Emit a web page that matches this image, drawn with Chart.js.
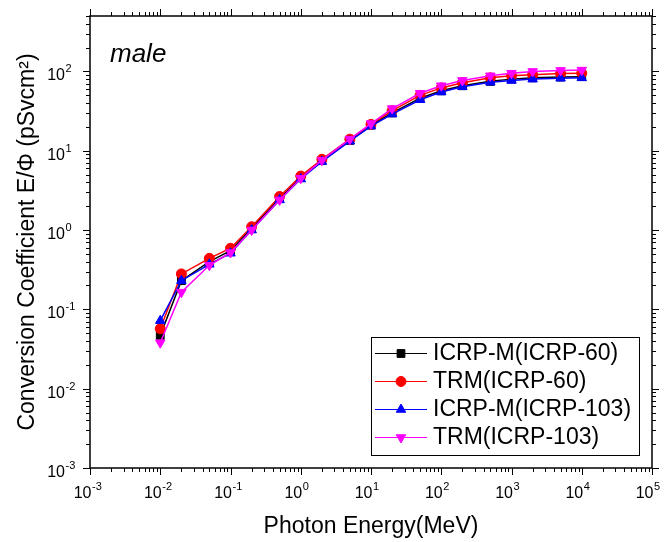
<!DOCTYPE html>
<html>
<head>
<meta charset="utf-8">
<script src="https://cdn.jsdelivr.net/npm/chart.js@4.4.1/dist/chart.umd.min.js"></script>
<style>
  body { margin: 0; background: #fff; }
  canvas { display: block; }
</style>
</head>
<body>
<canvas id="doseChart" width="667" height="542"></canvas>
<script>
// photon energies (MeV)
const energies = [0.01, 0.02, 0.05, 0.1, 0.2, 0.5, 1, 2, 5, 10, 20, 50, 100, 200, 500, 1000, 2000, 5000, 10000];

// conversion coefficients E/Phi (pSv cm2)
const icrpM60 = [0.047, 0.23, 0.40, 0.55, 1.05, 2.5, 4.6, 7.5, 13.5, 21, 30, 46, 57, 66, 75, 80, 83, 85, 86];
const trm60 = [0.057, 0.28, 0.44, 0.59, 1.1, 2.65, 4.8, 7.8, 14, 21.5, 32, 50, 62, 72, 83, 88, 91, 94, 95];
const icrpM103 = [0.072, 0.23, 0.37, 0.51, 1.0, 2.4, 4.4, 7.3, 13.2, 20.5, 29, 44, 55, 64, 73, 77, 80, 82, 83];
const trm103 = [0.038, 0.165, 0.36, 0.52, 1.0, 2.4, 4.5, 7.6, 14, 22, 34, 53, 66, 77, 88, 95, 100, 103, 104];

const seriesNames = ["ICRP-M(ICRP-60)", "TRM(ICRP-60)", "ICRP-M(ICRP-103)", "TRM(ICRP-103)"];
const xTickExps = [-3, -2, -1, 0, 1, 2, 3, 4, 5];
const yTickExps = [-3, -2, -1, 0, 1, 2];
const panelLabel = "male";

const FONT = "'Liberation Sans', Arial, sans-serif";

const looks = [
  { color: "#000000", style: "rect", radius: 5.5, rotation: 0, order: 3 },
  { color: "#ff0000", style: "circle", radius: 5, rotation: 0, order: 2 },
  { color: "#0000ff", style: "triangle", radius: 5.5, rotation: 0, order: 1 },
  { color: "#ff00ff", style: "triangle", radius: 5.5, rotation: 180, order: 0 }
];

const allSeries = [icrpM60, trm60, icrpM103, trm103];

const datasets = allSeries.map((vals, i) => ({
  label: seriesNames[i],
  data: energies.map((e, j) => ({ x: e, y: vals[j] })),
  borderColor: looks[i].color,
  backgroundColor: looks[i].color,
  borderWidth: 1.5,
  pointStyle: looks[i].style,
  pointRadius: looks[i].radius,
  pointRotation: looks[i].rotation,
  pointBorderWidth: 1,
  order: looks[i].order,
  tension: 0
}));

function drawPower(ctx, exp, xRight, baseY) {
  ctx.fillStyle = "#000";
  ctx.font = "16px " + FONT;
  ctx.textAlign = "right";
  ctx.textBaseline = "alphabetic";
  ctx.fillText("10", xRight, baseY);
  ctx.font = "11px " + FONT;
  ctx.textAlign = "left";
  ctx.fillText(String(exp), xRight + 0.5, baseY - 8);
}

// frame, ticks on all four sides, power-of-ten labels, panel text and legend
const framePlugin = {
  id: "frame",
  afterDraw(chart) {
    const { ctx, chartArea: a, scales: { x, y } } = chart;
    ctx.save();
    ctx.strokeStyle = "#000";
    ctx.lineWidth = 1;
    ctx.beginPath();
    for (let e = -3; e <= 5; e++) {
      for (let m = 1; m <= 9; m++) {
        const v = m * Math.pow(10, e);
        if (v > 1e5 * 1.0001) break;
        const px = Math.round(x.getPixelForValue(v)) + 0.5;
        const len = m === 1 ? 7 : 4;
        ctx.moveTo(px, a.bottom); ctx.lineTo(px, a.bottom + len);
        ctx.moveTo(px, a.top); ctx.lineTo(px, a.top - len);
      }
    }
    for (let e = -3; e <= 2; e++) {
      for (let m = 1; m <= 9; m++) {
        const v = m * Math.pow(10, e);
        if (v > 500 * 1.0001) break;
        const py = Math.round(y.getPixelForValue(v)) + 0.5;
        const len = m === 1 ? 7 : 4;
        ctx.moveTo(a.left, py); ctx.lineTo(a.left - len, py);
        ctx.moveTo(a.right, py); ctx.lineTo(a.right + len, py);
      }
    }
    ctx.stroke();

    ctx.lineWidth = 1.5;
    ctx.strokeRect(a.left, a.top, a.right - a.left, a.bottom - a.top);

    xTickExps.forEach(n => {
      const px = x.getPixelForValue(Math.pow(10, n));
      drawPower(ctx, n, px + 1.5, a.bottom + 30);
    });
    yTickExps.forEach(n => {
      const py = y.getPixelForValue(Math.pow(10, n));
      drawPower(ctx, n, 65, py + 9);
    });

    ctx.fillStyle = "#000";
    ctx.font = "italic 26px " + FONT;
    ctx.textAlign = "left";
    ctx.textBaseline = "alphabetic";
    ctx.fillText(panelLabel, 110, 62);

    // legend box
    const box = { left: 371, top: 337, right: 639, bottom: 455 };
    ctx.lineWidth = 1;
    ctx.strokeStyle = "#000";
    ctx.strokeRect(box.left + 0.5, box.top + 0.5, box.right - box.left, box.bottom - box.top);
    chart.data.datasets.forEach((ds, i) => {
      const rowY = 353 + i * 28;
      ctx.strokeStyle = ds.borderColor;
      ctx.lineWidth = 1;
      ctx.beginPath();
      ctx.moveTo(375, rowY + 0.5);
      ctx.lineTo(427, rowY + 0.5);
      ctx.stroke();
      ctx.fillStyle = ds.backgroundColor;
      Chart.helpers.drawPoint(ctx, {
        pointStyle: ds.pointStyle,
        radius: ds.pointRadius,
        rotation: ds.pointRotation,
        borderWidth: 1
      }, 401, rowY + 0.5);
      ctx.fillStyle = "#000";
      ctx.font = "23px " + FONT;
      ctx.textAlign = "left";
      ctx.textBaseline = "middle";
      ctx.fillText(ds.label, 433, rowY + 1);
    });
    ctx.restore();
  }
};

new Chart(document.getElementById("doseChart"), {
  type: "line",
  data: { datasets },
  options: {
    responsive: false,
    animation: false,
    devicePixelRatio: 1,
    events: [],
    layout: { padding: { top: 16, right: 15, left: 0, bottom: 0 } },
    plugins: { legend: { display: false }, tooltip: { enabled: false } },
    scales: {
      x: {
        type: "logarithmic",
        min: 1e-3,
        max: 1e5,
        grid: { display: false },
        border: { display: false },
        ticks: { display: false },
        title: {
          display: true,
          text: "Photon Energy(MeV)",
          color: "#000",
          font: { family: FONT, size: 23 },
          padding: { top: 0, bottom: 2 }
        },
        afterFit: s => { s.height = 74; }
      },
      y: {
        type: "logarithmic",
        min: 1e-3,
        max: 500,
        grid: { display: false },
        border: { display: false },
        ticks: { display: false },
        title: {
          display: true,
          text: "Conversion Coefficient E/Φ (pSvcm²)",
          color: "#000",
          font: { family: FONT, size: 23 },
          padding: { top: 14, bottom: 0 }
        },
        afterFit: s => { s.width = 90; }
      }
    }
  },
  plugins: [framePlugin]
});
</script>
</body>
</html>
